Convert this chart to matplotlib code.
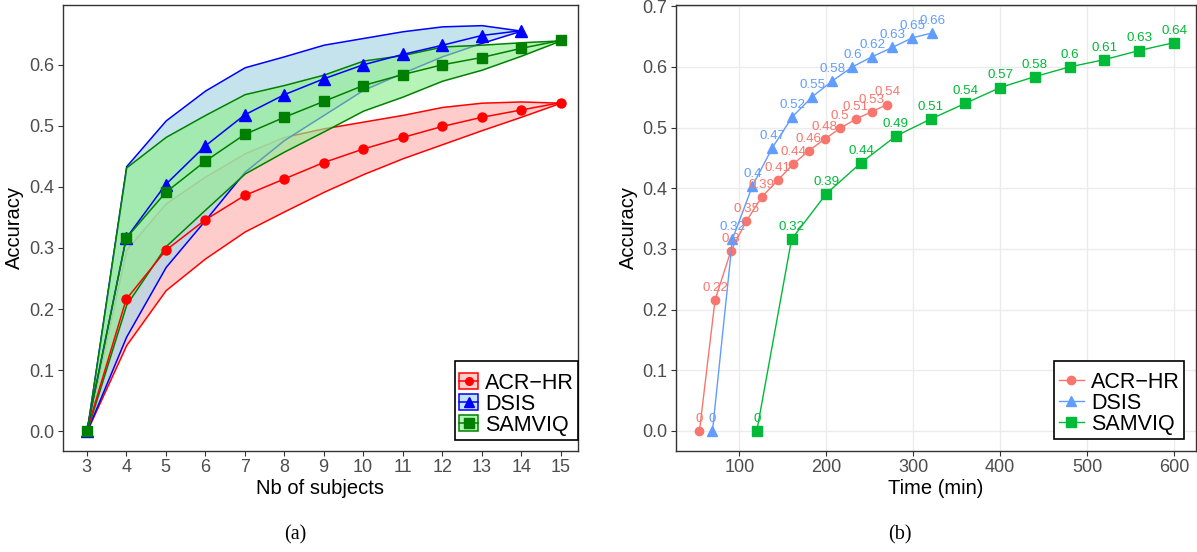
import matplotlib
matplotlib.use("Agg")
import matplotlib.pyplot as plt
from matplotlib.patches import Patch
from matplotlib.lines import Line2D

plt.rcParams['font.family'] = ['Liberation Sans', 'DejaVu Sans']

# ---------------- data ----------------
subjects = [3, 4, 5, 6, 7, 8, 9, 10, 11, 12, 13, 14, 15]
subjects_dsis = [3, 4, 5, 6, 7, 8, 9, 10, 11, 12, 13, 14]

acr_mean = [0.0, 0.216, 0.296, 0.346, 0.386, 0.413, 0.440, 0.462, 0.481, 0.499, 0.514, 0.526, 0.538]
acr_low = [0.0, 0.141, 0.231, 0.283, 0.327, 0.360, 0.392, 0.421, 0.447, 0.470, 0.493, 0.515, 0.538]
acr_high = [0.0, 0.297, 0.373, 0.417, 0.455, 0.482, 0.496, 0.507, 0.518, 0.531, 0.538, 0.540, 0.538]

dsis_mean = [0.0, 0.316, 0.404, 0.467, 0.518, 0.551, 0.577, 0.600, 0.617, 0.632, 0.648, 0.656]
dsis_low = [0.0, 0.155, 0.269, 0.346, 0.425, 0.477, 0.518, 0.559, 0.587, 0.614, 0.636, 0.656]
dsis_high = [0.0, 0.434, 0.509, 0.558, 0.596, 0.614, 0.633, 0.644, 0.655, 0.663, 0.665, 0.656]

sam_mean = [0.0, 0.316, 0.391, 0.442, 0.486, 0.514, 0.540, 0.566, 0.584, 0.600, 0.612, 0.627, 0.640]
sam_low = [0.0, 0.207, 0.303, 0.363, 0.422, 0.458, 0.491, 0.525, 0.548, 0.574, 0.592, 0.615, 0.640]
sam_high = [0.0, 0.432, 0.482, 0.518, 0.552, 0.567, 0.584, 0.607, 0.616, 0.630, 0.633, 0.637, 0.640]

time_acr = [54, 72, 90, 108, 126, 144, 162, 180, 198, 216, 234, 252, 270]
time_dsis = [69, 92, 115, 138, 161, 184, 207, 230, 253, 276, 299, 322]
time_sam = [120, 160, 200, 240, 280, 320, 360, 400, 440, 480, 520, 560, 600]

names = ['ACR\u2212HR', 'DSIS', 'SAMVIQ']
left_x_ticks = [3, 4, 5, 6, 7, 8, 9, 10, 11, 12, 13, 14, 15]
left_y_ticks = [0.0, 0.1, 0.2, 0.3, 0.4, 0.5, 0.6]
right_x_ticks = [100, 200, 300, 400, 500, 600]
right_y_ticks = [0.0, 0.1, 0.2, 0.3, 0.4, 0.5, 0.6, 0.7]

# ---------------- figure ----------------
W, H = 1197, 552
fig = plt.figure(figsize=(W / 100, H / 100), dpi=100)


def px_axes(x0, y0, x1, y1):
    return fig.add_axes([x0 / W, 1 - y1 / H, (x1 - x0) / W, (y1 - y0) / H])


TICK_COL = '#4D4D4D'
SPINE_COL = '#333333'
TICK_FS = 13
TITLE_FS = 14.5
LEG_FS = 15.5

# ---------- left panel ----------
axL = px_axes(63, 5, 578, 450.7)
line_cols = ['#FF0000', '#0000FF', '#008000']
fill_cols = [(1, 0, 0, 0.2), (0.678, 0.847, 0.902, 0.7), (0.565, 0.933, 0.565, 0.65)]
markers = ['o', '^', 's']
msizes = [6.5, 8, 7.5]
xs = [subjects, subjects_dsis, subjects]
lows = [acr_low, dsis_low, sam_low]
highs = [acr_high, dsis_high, sam_high]
means = [acr_mean, dsis_mean, sam_mean]

for i in range(3):
    axL.fill_between(xs[i], lows[i], highs[i], facecolor=fill_cols[i],
                     edgecolor=line_cols[i], linewidth=1.1, zorder=1 + i)
for i in range(3):
    axL.plot(xs[i], means[i], color=line_cols[i], marker=markers[i],
             markersize=msizes[i], linewidth=1.1, zorder=5 + i)

axL.set_xlim(2.4, 15.44)
axL.set_ylim(-0.032, 0.698)
axL.set_xticks(left_x_ticks)
axL.set_yticks(left_y_ticks)
axL.set_yticklabels([f"{v:.1f}" for v in left_y_ticks])
axL.tick_params(colors=SPINE_COL, labelcolor=TICK_COL, labelsize=TICK_FS,
                length=3.5, width=0.8, direction='out', pad=2.5)
for s in axL.spines.values():
    s.set_color(SPINE_COL)
    s.set_linewidth(1.0)
axL.set_xlabel('Nb of subjects', fontsize=TITLE_FS, color='black', labelpad=2)
axL.set_ylabel('Accuracy', fontsize=TITLE_FS, color='black', labelpad=4)

handlesL = [(Patch(facecolor=fill_cols[i], edgecolor=line_cols[i], linewidth=1.1),
             Line2D([], [], color=line_cols[i], marker=markers[i],
                    markersize=msizes[i] - 1, linewidth=1.1)) for i in range(3)]
legL = axL.legend(handlesL, names, loc='lower right', bbox_to_anchor=(1.0, 0.024),
                  borderaxespad=0, fontsize=LEG_FS, fancybox=False, framealpha=1,
                  edgecolor='black', handlelength=0.9, handleheight=0.8,
                  handletextpad=0.3, labelspacing=0.0, borderpad=0.2,
                  title=' ', title_fontsize=5)
legL.get_frame().set_linewidth(1.2)

# ---------- right panel ----------
axR = px_axes(675.7, 5, 1196, 450.7)
gg_cols = ['#F8766D', '#619CFF', '#00BA38']
rmsizes = [6, 7, 6.5]
times = [time_acr, time_dsis, time_sam]
for i in range(3):
    axR.plot(times[i], means[i], color=gg_cols[i], marker=markers[i],
             markersize=rmsizes[i], linewidth=1.0, zorder=3)
    for t, v in zip(times[i], means[i]):
        axR.annotate(f"{round(v, 2):g}", (t, v), xytext=(0, 6.5),
                     textcoords='offset points', ha='center', va='baseline',
                     fontsize=9.6, color=gg_cols[i], zorder=4)

axR.set_xlim(26.7, 625.3)
axR.set_ylim(-0.0325, 0.702)
axR.set_xticks(right_x_ticks)
axR.set_yticks(right_y_ticks)
axR.set_yticklabels([f"{v:.1f}" for v in right_y_ticks])
axR.grid(True, color='#EBEBEB', linewidth=1.0, zorder=0)
axR.set_axisbelow(True)
axR.tick_params(colors=SPINE_COL, labelcolor=TICK_COL, labelsize=TICK_FS,
                length=3.5, width=0.8, direction='out', pad=2.5)
for s in axR.spines.values():
    s.set_color(SPINE_COL)
    s.set_linewidth(1.0)
axR.set_xlabel('Time (min)', fontsize=TITLE_FS, color='black', labelpad=2)
axR.set_ylabel('Accuracy', fontsize=TITLE_FS, color='black', labelpad=3)

handlesR = [Line2D([], [], color=gg_cols[i], marker=markers[i],
                   markersize=rmsizes[i], linewidth=1.0) for i in range(3)]
legR = axR.legend(handlesR, names, loc='lower right', bbox_to_anchor=(0.977, 0.026),
                  borderaxespad=0, fontsize=LEG_FS, fancybox=False, framealpha=1,
                  edgecolor='black', handlelength=1.2, handleheight=0.8,
                  handletextpad=0.3, labelspacing=0.0, borderpad=0.2,
                  title=' ', title_fontsize=5)
legR.get_frame().set_linewidth(1.2)

# captions
fig.text(295 / W, 1 - 535 / H, '(a)', ha='center', va='center', fontsize=14.5,
         family=['Liberation Serif', 'DejaVu Serif'])
fig.text(900 / W, 1 - 535 / H, '(b)', ha='center', va='center', fontsize=14.5,
         family=['Liberation Serif', 'DejaVu Serif'])

fig.savefig('out.png', dpi=100)
